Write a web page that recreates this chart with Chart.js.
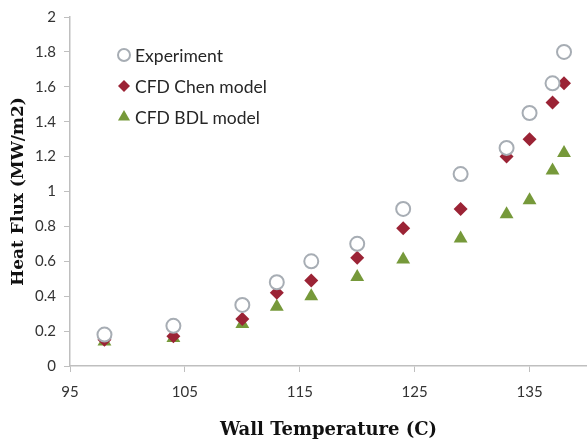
<!DOCTYPE html>
<html>
<head>
<meta charset="utf-8">
<script src="https://cdn.jsdelivr.net/npm/chart.js@4"></script>
<style>
  html, body { margin: 0; padding: 0; background: #fff; }
  #wrap { width: 587px; height: 448px; }
</style>
</head>
<body>
<div id="wrap"><canvas id="myChart"></canvas></div>
<script>
    // wall temperature (C)
    const wallTemp = [98, 104, 110, 113, 116, 120, 124, 129, 133, 135, 137, 138];
    // heat flux (MW/m2)
    const experiment = [0.18, 0.23, 0.35, 0.48, 0.60, 0.70, 0.90, 1.10, 1.25, 1.45, 1.62, 1.80];
    const chenModel  = [0.15, 0.17, 0.27, 0.42, 0.49, 0.62, 0.79, 0.90, 1.20, 1.30, 1.51, 1.62];
    const bdlModel   = [0.14, 0.16, 0.24, 0.34, 0.40, 0.51, 0.61, 0.73, 0.87, 0.95, 1.12, 1.22];
    const xTicks = [95, 105, 115, 125, 135];

    const toPoints = (ys) => ys.map((y, i) => ({ x: wallTemp[i], y: y }));

    const datasets = [
      {
        label: 'Experiment',
        data: toPoints(experiment),
        pointStyle: 'circle',
        pointRadius: 7,
        pointBorderWidth: 2,
        borderColor: '#a7adb4',
        backgroundColor: '#ffffff'
      },
      {
        label: 'CFD Chen model',
        data: toPoints(chenModel),
        pointStyle: 'rectRot',
        pointRadius: 7,
        pointBorderWidth: 0,
        borderColor: '#9b2335',
        backgroundColor: '#9b2335'
      },
      {
        label: 'CFD BDL model',
        data: toPoints(bdlModel),
        pointStyle: 'triangle',
        pointRadius: 8,
        pointBorderWidth: 0,
        borderColor: '#76993a',
        backgroundColor: '#76993a'
      }
    ];

    // legend drawn inside the plot area, top left
    const insideLegend = {
      id: 'insideLegend',
      afterDatasetsDraw(chart) {
        const ctx = chart.ctx;
        ctx.save();
        ctx.font = '17.5px Lato';
        ctx.textBaseline = 'middle';
        chart.data.datasets.forEach((ds, i) => {
          const y = 55 + i * 31;
          ctx.strokeStyle = ds.borderColor;
          ctx.fillStyle = ds.backgroundColor;
          ctx.lineWidth = ds.pointBorderWidth;
          Chart.helpers.drawPoint(ctx, {
            pointStyle: ds.pointStyle,
            radius: ds.pointRadius - 1,
            borderWidth: ds.pointBorderWidth,
            rotation: 0
          }, 124, y);
          ctx.fillStyle = '#262626';
          ctx.fillText(ds.label, 135, y + 1);
        });
        ctx.restore();
      }
    };

    const config = {
      type: 'scatter',
      data: { datasets },
      options: {
        responsive: true,
        maintainAspectRatio: false,
        animation: false,
        layout: { autoPadding: false, padding: { top: 16, right: 0, left: 0, bottom: 0 } },
        scales: {
          x: {
            type: 'linear',
            min: 95,
            max: 140,
            afterBuildTicks: (scale) => { scale.ticks = xTicks.map(v => ({ value: v })); },
            afterFit: (scale) => { scale.height = 82; scale.paddingRight = 0; scale.paddingLeft = 0; },
            grid: { drawOnChartArea: false, color: '#bfbfbf', tickLength: 6, tickColor: '#bfbfbf' },
            border: { color: '#bfbfbf', width: 1.5 },
            ticks: { font: { family: 'Lato', size: 15 }, color: '#333', padding: 11, maxRotation: 0 },
            title: {
              display: true,
              text: 'Wall Temperature (C)',
              font: { family: 'DejaVu Serif', size: 18, weight: 'bold' },
              color: '#111',
              padding: { top: 0, bottom: 7 }
            }
          },
          y: {
            min: 0,
            max: 2,
            afterFit: (scale) => { scale.width = 70; },
            grid: { drawOnChartArea: false, color: '#bfbfbf', tickLength: 6, tickColor: '#bfbfbf' },
            border: { color: '#bfbfbf', width: 1.5 },
            ticks: {
              stepSize: 0.2,
              font: { family: 'Lato', size: 15 },
              color: '#333',
              padding: 8,
              callback: (v) => String(+v.toFixed(1))
            },
            title: {
              display: true,
              text: 'Heat Flux (MW/m2)',
              font: { family: 'DejaVu Serif', size: 17, weight: 'bold' },
              color: '#111',
              padding: { top: 8, bottom: 0 }
            }
          }
        },
        plugins: {
          legend: { display: false },
          tooltip: { enabled: false }
        }
      },
      plugins: [insideLegend]
    };

    const myChart = new Chart(document.getElementById('myChart'), config);
</script>
</body>
</html>
